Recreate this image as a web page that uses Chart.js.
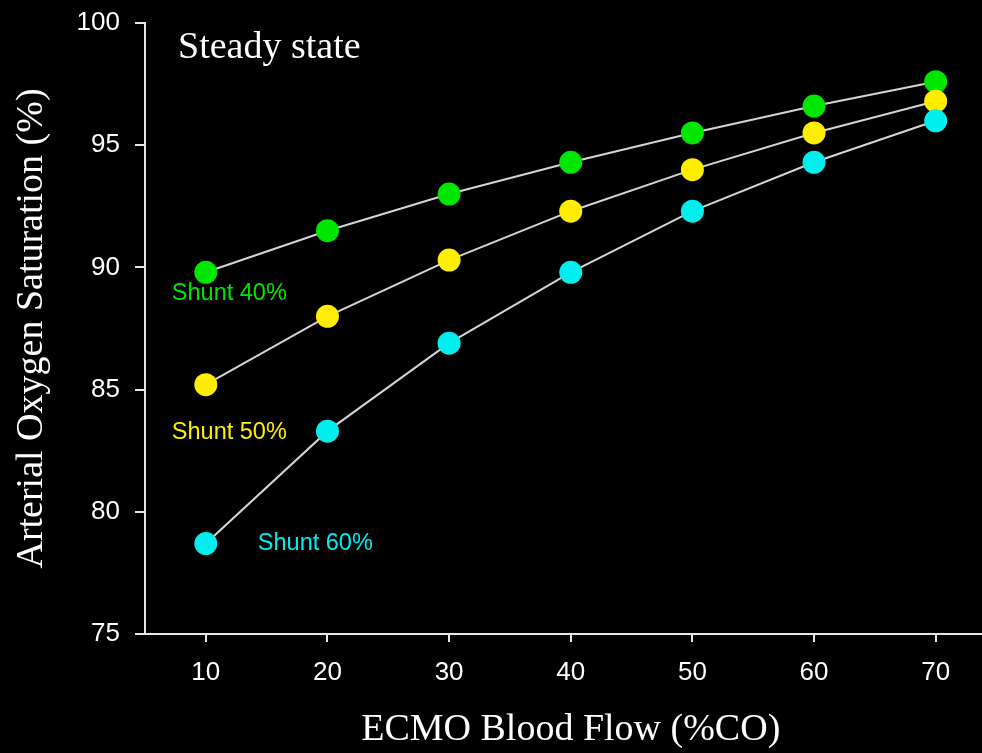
<!DOCTYPE html>
<html>
<head>
<meta charset="utf-8">
<script src="https://cdn.jsdelivr.net/npm/chart.js@4.4.1/dist/chart.umd.min.js"></script>
<style>
  html, body { margin: 0; padding: 0; background: #000; overflow: hidden; }
  #wrap { width: 1008px; height: 753px; }
</style>
</head>
<body>
<div id="wrap"><canvas id="c" width="1008" height="753"></canvas></div>
<script>
// ECMO blood flow (% of cardiac output) on the x axis
const flows = [10, 20, 30, 40, 50, 60, 70];
// Arterial oxygen saturation (%) for each intrapulmonary shunt fraction
const shunt40 = [89.8, 91.5, 93.0, 94.3, 95.5, 96.6, 97.6];
const shunt50 = [85.2, 88.0, 90.3, 92.3, 94.0, 95.5, 96.8];
const shunt60 = [78.7, 83.3, 86.9, 89.8, 92.3, 94.3, 96.0];
const seriesNames = ['Shunt 40%', 'Shunt 50%', 'Shunt 60%'];
const xTicks = [10, 20, 30, 40, 50, 60, 70];
const yTicks = [75, 80, 85, 90, 95, 100];

const GREEN = '#00e600';
const YELLOW = '#ffee00';
const CYAN = '#00eeee';
const AXIS = '#e6e6e6';
const SERIF = '"Liberation Serif", "Times New Roman", serif';
const SANS = '"Liberation Sans", Arial, sans-serif';

function pts(ys) { return flows.map((x, i) => ({ x: x, y: ys[i] })); }

function series(label, ys, color, order) {
  return {
    label: label,
    data: pts(ys),
    borderColor: '#d4d4d4',
    borderWidth: 2,
    backgroundColor: color,
    pointBackgroundColor: color,
    pointBorderWidth: 0,
    pointRadius: 11.5,
    pointHoverRadius: 11.5,
    tension: 0,
    order: order
  };
}

// Series labels placed next to the first point of each curve (pixel offsets)
const labelOffsets = [
  { dx: -34, dy: 21 },
  { dx: -34, dy: 48 },
  { dx: 52, dy: 0 }
];

const decorations = {
  id: 'decorations',
  afterDatasetsDraw(chart) {
    const ctx = chart.ctx;
    const area = chart.chartArea;
    ctx.save();
    ctx.fillStyle = '#ffffff';
    ctx.font = '38px ' + SERIF;
    ctx.textAlign = 'left';
    ctx.textBaseline = 'alphabetic';
    ctx.fillText('Steady state', area.left + 33, area.top + 35);

    ctx.font = '23.5px ' + SANS;
    ctx.textBaseline = 'middle';
    chart.data.datasets.forEach((ds, i) => {
      const first = chart.getDatasetMeta(i).data[0];
      const off = labelOffsets[i];
      ctx.fillStyle = ds.pointBackgroundColor;
      ctx.fillText(seriesNames[i], first.x + off.dx, first.y + off.dy);
    });
    ctx.restore();
  }
};

function noPad(scale) {
  scale.paddingLeft = 0;
  scale.paddingRight = 0;
  scale.paddingTop = 0;
  scale.paddingBottom = 0;
}

new Chart(document.getElementById('c'), {
  type: 'line',
  data: {
    datasets: [
      series(seriesNames[0], shunt40, GREEN, 3),
      series(seriesNames[1], shunt50, YELLOW, 2),
      series(seriesNames[2], shunt60, CYAN, 1)
    ]
  },
  options: {
    responsive: false,
    animation: false,
    devicePixelRatio: 1,
    layout: { padding: { top: 23, right: 0, left: 0, bottom: 0 } },
    plugins: { legend: { display: false }, tooltip: { enabled: false } },
    scales: {
      x: {
        type: 'linear',
        min: 5,
        max: 75,
        afterBuildTicks(scale) { scale.ticks = xTicks.map(v => ({ value: v })); },
        afterFit(scale) { scale.height = 119; noPad(scale); },
        border: { display: true, color: AXIS, width: 2 },
        grid: { drawOnChartArea: false, drawTicks: true, tickLength: 8, color: AXIS, lineWidth: 2 },
        ticks: { color: '#ffffff', font: { family: SANS, size: 26 }, padding: 15, maxRotation: 0, autoSkip: false },
        title: {
          display: true,
          text: 'ECMO Blood Flow (%CO)',
          color: '#ffffff',
          font: { family: SERIF, size: 38 },
          padding: { top: 0, bottom: 0 }
        }
      },
      y: {
        type: 'linear',
        min: 75,
        max: 100,
        afterBuildTicks(scale) { scale.ticks = yTicks.map(v => ({ value: v })); },
        afterFit(scale) { scale.width = 145; noPad(scale); },
        border: { display: true, color: AXIS, width: 2 },
        grid: { drawOnChartArea: false, drawTicks: true, tickLength: 10, color: AXIS, lineWidth: 2 },
        ticks: { color: '#ffffff', font: { family: SANS, size: 26 }, padding: 15 },
        title: {
          display: true,
          text: 'Arterial Oxygen Saturation (%)',
          color: '#ffffff',
          font: { family: SERIF, size: 38 },
          padding: { top: 9, bottom: 0 }
        }
      }
    }
  },
  plugins: [decorations]
});
</script>
</body>
</html>
